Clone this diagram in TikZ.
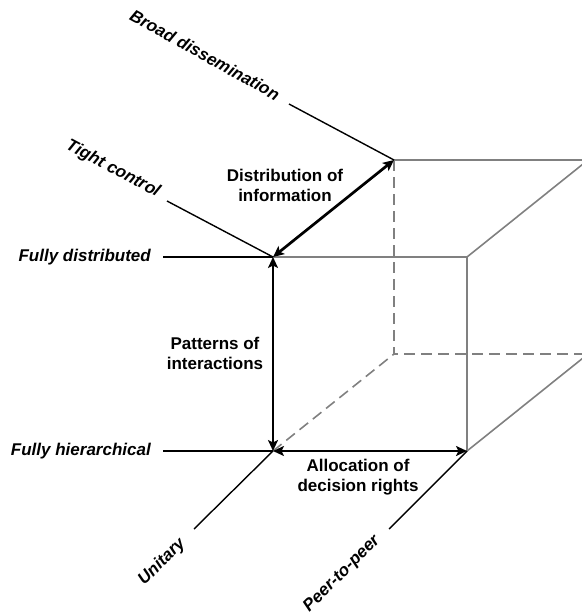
\documentclass[tikz,border=0pt]{standalone}
\usepackage{fontspec}
\setmainfont{Liberation Sans}
\usetikzlibrary{arrows.meta}
\begin{document}
\begin{tikzpicture}[x=1bp,y=-1bp,
  axisline/.style={black,line width=1.4bp},
  cubeedge/.style={draw=black!50,line width=1.6bp},
  hiddenedge/.style={cubeedge,dash pattern=on 11bp off 6bp},
  tip/.tip={Stealth[length=11bp,width=10bp,inset=2.5bp]},
  dimarrow/.style={line width=2.7bp,tip-tip},
  endlabel/.style={font=\fontsize{17bp}{20bp}\selectfont\bfseries\itshape,inner sep=0pt},
  dimlabel/.style={font=\fontsize{17bp}{20bp}\selectfont\bfseries,align=center,inner sep=0pt}
]
\useasboundingbox (0,0) rectangle (582,614);

% cube corners (front face, back face)
\coordinate (ftl) at (273,257);
\coordinate (ftr) at (467,257);
\coordinate (fbl) at (273,451);
\coordinate (fbr) at (467,451);
\coordinate (btl) at (394,160);
\coordinate (bbl) at (394,354);
\coordinate (btr) at (588,160);
\coordinate (bbr) at (588,354);

% cube edges, cut at the page edge
\begin{scope}
  \clip (0,0) rectangle (582,614);
  \draw[cubeedge] (ftl) -- (ftr) -- (fbr);
  \draw[cubeedge] (btl) -- (btr);
  \draw[cubeedge] (ftr) -- (btr);
  \draw[cubeedge] (fbr) -- (bbr);
  \draw[hiddenedge] (btl) -- (bbl) -- (bbr);
  \draw[hiddenedge] (fbl) -- (bbl);
\end{scope}

% free ends of the leader lines
\coordinate (bdend) at (289,104);
\coordinate (tcend) at (167,201);
\coordinate (fdend) at (163,257);
\coordinate (fhend) at (163,451);
\coordinate (unend) at (194,529);
\coordinate (ppend) at (389,529);

\draw[axisline] (bdend) -- (btl);
\draw[axisline] (tcend) -- (ftl);
\draw[axisline] (fdend) -- (ftl);
\draw[axisline] (fhend) -- (fbl);
\draw[axisline] (unend) -- (fbl);
\draw[axisline] (ppend) -- (fbr);

% extremes of each dimension
\node[endlabel, rotate=-29] (bd) at (205,55) {Broad dissemination};
\node[endlabel, rotate=-28] (tc) at (113,169) {Tight control};
\node[endlabel, anchor=east] (fd) at (151,257) {Fully distributed};
\node[endlabel, anchor=east] (fh) at (151,451) {Fully hierarchical};
\node[endlabel, rotate=45] (un) at (162,562) {Unitary};
\node[endlabel, rotate=45] (pp) at (342,574) {Peer-to-peer};

% the three dimensions
\draw[dimarrow] (ftl) -- (btl);
\draw[dimarrow] (ftl) -- (fbl);
\draw[dimarrow] (fbl) -- (fbr);

\node[dimlabel] (di) at (285,185) {Distribution of\\information};
\node[dimlabel] (pi) at (215,353) {Patterns of\\interactions};
\node[dimlabel] (ad) at (358,477) {Allocation of\\decision rights};
\end{tikzpicture}
\end{document}
